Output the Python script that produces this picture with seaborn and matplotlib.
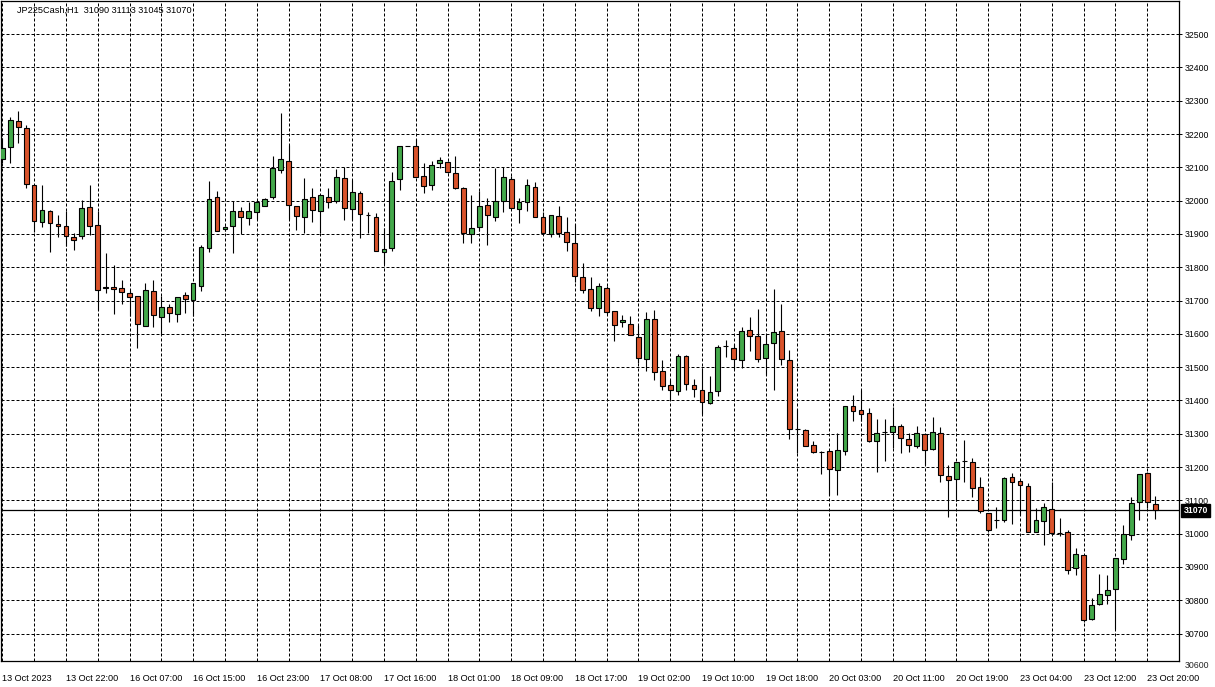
import matplotlib
matplotlib.use("Agg")
import matplotlib.pyplot as plt
import matplotlib.transforms as mtransforms
import numpy as np
import seaborn as sns

# ---------------- data (JP225Cash, H1) ----------------
opens = [32124, 32160, 32238, 32217, 32046, 31935, 31968, 31929, 31923, 31891,
         31895, 31980, 31926, 31740, 31742, 31738, 31723, 31714, 31624, 31729,
         31651, 31679, 31660, 31717, 31702, 31745, 31857, 32010, 31914, 31923,
         31969, 31947, 31965, 31983, 32012, 32091, 32118, 31984, 31951, 32011,
         31969, 32011, 31999, 32068, 31975, 32023, 31956, 31951, 31846, 31858,
         32065, 32165, 32165, 32075, 32047, 32113, 32116, 32083, 32038, 31900,
         31920, 31988, 31952, 32000, 32065, 31975, 31997, 32042, 31952, 31900,
         31954, 31907, 31874, 31772, 31736, 31677, 31738, 31667, 31635, 31630,
         31591, 31525, 31645, 31489, 31447, 31429, 31534, 31447, 31432, 31392,
         31429, 31562, 31558, 31521, 31612, 31594, 31527, 31572, 31609, 31522,
         31315, 31310, 31266, 31244, 31248, 31191, 31248, 31383, 31372, 31362,
         31278, 31306, 31305, 31322, 31285, 31264, 31300, 31254, 31303, 31174,
         31165, 31218, 31216, 31141, 31063, 31042, 31040, 31170, 31158, 31142,
         31004, 31037, 31073, 31003, 31004, 30896, 30937, 30743, 30788, 30816,
         30833, 30923, 30995, 31095, 31181, 31090]
highs = [32187, 32250, 32269, 32227, 32046, 32047, 31972, 31957, 31969, 31902,
         32002, 32047, 31968, 31842, 31808, 31763, 31733, 31714, 31753, 31763,
         31713, 31688, 31711, 31727, 31753, 31866, 32059, 32029, 31923, 32000,
         31980, 31995, 31995, 32007, 32134, 32262, 32167, 31984, 32068, 32038,
         32017, 32038, 32096, 32101, 32061, 32030, 31966, 31963, 31918, 32086,
         32165, 32165, 32185, 32113, 32120, 32131, 32120, 32133, 32040, 32018,
         32028, 32008, 32097, 32100, 32075, 32008, 32065, 32057, 31965, 31958,
         31985, 31952, 31930, 31814, 31770, 31752, 31745, 31667, 31655, 31652,
         31625, 31665, 31672, 31520, 31462, 31540, 31537, 31463, 31498, 31472,
         31567, 31582, 31570, 31621, 31650, 31675, 31600, 31735, 31690, 31550,
         31374, 31315, 31279, 31249, 31248, 31302, 31384, 31417, 31432, 31377,
         31344, 31344, 31380, 31328, 31302, 31322, 31300, 31350, 31320, 31207,
         31216, 31280, 31228, 31170, 31063, 31080, 31170, 31181, 31158, 31153,
         31078, 31093, 31156, 31046, 31010, 30958, 30937, 30808, 30878, 30876,
         30926, 31026, 31110, 31178, 31186, 31113]
lows = [32112, 32112, 32172, 32037, 31907, 31922, 31847, 31892, 31865, 31852,
        31884, 31897, 31670, 31722, 31658, 31688, 31653, 31557, 31624, 31620,
        31597, 31634, 31634, 31662, 31653, 31728, 31847, 31908, 31910, 31844,
        31899, 31928, 31945, 31983, 32005, 32084, 31944, 31911, 31903, 31935,
        31903, 31978, 31993, 31943, 31943, 31888, 31903, 31849, 31811, 31848,
        32033, 32165, 32071, 32023, 32031, 32098, 32083, 32035, 31873, 31873,
        31910, 31868, 31940, 31965, 31977, 31932, 31970, 31950, 31902, 31890,
        31890, 31850, 31755, 31724, 31668, 31652, 31660, 31578, 31620, 31595,
        31512, 31488, 31462, 31432, 31400, 31417, 31432, 31410, 31360, 31390,
        31413, 31530, 31494, 31498, 31548, 31515, 31475, 31430, 31507, 31285,
        31242, 31263, 31242, 31179, 31117, 31117, 31235, 31337, 31337, 31274,
        31184, 31217, 31258, 31242, 31245, 31258, 31205, 31250, 31155, 31050,
        31098, 31155, 31110, 31062, 31005, 31018, 31036, 31028, 31056, 31004,
        31004, 30965, 31001, 30992, 30880, 30875, 30735, 30740, 30786, 30790,
        30713, 30910, 30981, 31042, 31078, 31045]
closes = [32157, 32241, 32220, 32050, 31938, 31972, 31932, 31923, 31893, 31881,
          31977, 31923, 31733, 31738, 31735, 31726, 31710, 31629, 31732, 31657,
          31681, 31663, 31711, 31705, 31753, 31861, 32004, 31908, 31921, 31969,
          31950, 31969, 31995, 32004, 32097, 32124, 31986, 31954, 32005, 31972,
          32017, 31996, 32071, 31978, 32026, 31960, 31956, 31849, 31855, 32059,
          32165, 32165, 32071, 32043, 32108, 32123, 32086, 32038, 31903, 31918,
          31984, 31957, 31999, 32072, 31977, 31997, 32048, 31950, 31902, 31958,
          31902, 31875, 31773, 31731, 31677, 31745, 31666, 31627, 31642, 31597,
          31528, 31645, 31486, 31444, 31432, 31534, 31450, 31435, 31396, 31426,
          31561, 31562, 31524, 31609, 31594, 31524, 31570, 31606, 31524, 31315,
          31315, 31263, 31245, 31244, 31194, 31251, 31384, 31367, 31359, 31277,
          31302, 31306, 31322, 31288, 31267, 31303, 31252, 31306, 31177, 31162,
          31216, 31218, 31138, 31067, 31010, 31042, 31166, 31155, 31145, 31004,
          31040, 31079, 31001, 31003, 30890, 30940, 30740, 30786, 30818, 30830,
          30926, 30998, 31091, 31178, 31095, 31070]

xtick_labels = ["13 Oct 2023", "13 Oct 22:00", "16 Oct 07:00", "16 Oct 15:00",
                "16 Oct 23:00", "17 Oct 08:00", "17 Oct 16:00", "18 Oct 01:00",
                "18 Oct 09:00", "18 Oct 17:00", "19 Oct 02:00", "19 Oct 10:00",
                "19 Oct 18:00", "20 Oct 03:00", "20 Oct 11:00", "20 Oct 19:00",
                "23 Oct 04:00", "23 Oct 12:00", "23 Oct 20:00"]
price_levels = list(range(30700, 32501, 100))
last_price = 31070
title_text = "JP225Cash,H1  31090 31113 31045 31070"

# ---------------- style ----------------
sns.set_style("white")
plt.rcParams["font.family"] = ["Liberation Sans", "DejaVu Sans"]

W, H = 1215, 687
fig = plt.figure(figsize=(W / 100, H / 100), dpi=100)
fig.patch.set_facecolor("white")

left_px, right_px, top_px, bottom_px = 1, 1179, 1, 661
ax = fig.add_axes([left_px / W, (H - bottom_px) / H,
                   (right_px - left_px) / W, (bottom_px - top_px) / H])

o = np.array(opens, float)
h = np.array(highs, float)
l = np.array(lows, float)
c = np.array(closes, float)
x = np.arange(len(o))
up = c >= o

green = "#43A84A"
red = "#D9532B"
lw = 0.8

ax.vlines(x, l, h, color="black", lw=lw, zorder=3)
ax.bar(x[up], (c - o)[up], bottom=o[up], width=0.6, color=green,
       edgecolor="black", linewidth=lw, zorder=4)
ax.bar(x[~up], (o - c)[~up], bottom=c[~up], width=0.6, color=red,
       edgecolor="black", linewidth=lw, zorder=4)

# scales: 1 candle = 8 px, 100 points = 33.3 px
ax.set_xlim((left_px - 2.3) / 8, (right_px - 2.3) / 8)
ax.set_ylim(32200 - (bottom_px - 134) * 3.003, 32200 - (top_px - 134) * 3.003)

# grid
ax.set_xticks(np.arange(0, len(o), 8))
ax.set_xticklabels(xtick_labels, ha="left", fontsize=6.6)
ax.set_xticks(np.arange(0, len(o) + 3, 4), minor=True)
ax.set_yticks(price_levels)
ax.set_yticklabels([str(p) for p in price_levels], fontsize=6.3)
ax.yaxis.tick_right()
ax.tick_params(axis="y", which="major", length=2.2, width=0.7, pad=2.2, colors="black")
ax.tick_params(axis="x", which="major", length=2.2, width=0.7, pad=7, colors="black")
ax.tick_params(axis="x", which="minor", length=0)
for lab in ax.get_xticklabels():
    lab.set_horizontalalignment("left")

ax.grid(True, which="both", axis="x", color="black", lw=0.72,
        linestyle=(0, (3, 2)), zorder=1)
ax.grid(True, which="major", axis="y", color="black", lw=0.72,
        linestyle=(0, (3, 2)), zorder=1)
ax.set_axisbelow(True)

for s in ax.spines.values():
    s.set_color("black")
    s.set_linewidth(0.9)

# last price line + label
ax.axhline(last_price, color="black", lw=0.9, zorder=2)
trans = mtransforms.blended_transform_factory(ax.transAxes, ax.transData)
ax.text(1.0 + 4.5 / (right_px - left_px), last_price, str(last_price),
        transform=trans, ha="left", va="center", fontsize=6.3, color="white",
        fontweight="bold",
        bbox=dict(boxstyle="square,pad=0.25", fc="black", ec="black"),
        clip_on=False, zorder=6)

# lowest price label sits just under the plot
fig.text(1185 / W, 1 - 666 / H, "30600", fontsize=6.3, ha="left", va="center")

# title
ax.text(16 / (right_px - left_px), 1 - 9 / (bottom_px - top_px), title_text,
        transform=ax.transAxes, ha="left", va="center", fontsize=6.6,
        color="black", zorder=7)

fig.savefig("out.png", dpi=100, facecolor="white")
